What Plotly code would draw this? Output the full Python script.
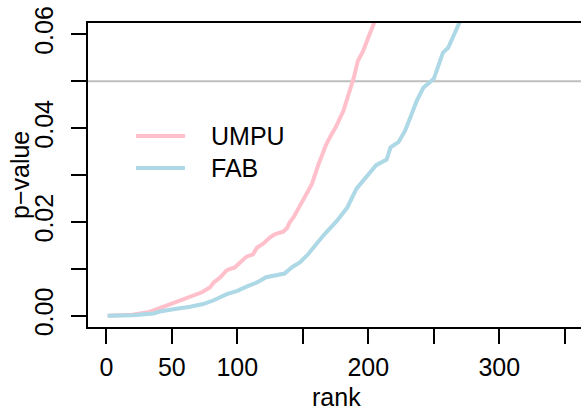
import plotly.graph_objects as go

# Sorted p-values by rank for the two procedures
umpu_rank = [1, 10, 20, 33, 41, 49, 56, 65, 73, 79, 82, 87, 92, 98, 102, 107, 112, 115,
             120, 125, 129, 135, 138, 140, 143, 150, 157, 162, 168, 172, 175, 181, 186,
             189, 192, 196, 200, 204, 206]
umpu_pval = [0.0, 0.0001, 0.0002, 0.0008, 0.0016, 0.0025, 0.0033, 0.0042, 0.0050, 0.0060,
             0.0071, 0.0082, 0.0097, 0.0103, 0.0114, 0.0126, 0.0131, 0.0145, 0.0154, 0.0167,
             0.0174, 0.0179, 0.0187, 0.0199, 0.0210, 0.0244, 0.0281, 0.0323, 0.0366, 0.0387,
             0.0401, 0.0437, 0.0479, 0.0508, 0.0543, 0.0564, 0.0593, 0.0621, 0.0645]

fab_rank = [1, 20, 36, 41, 51, 64, 74, 82, 92, 100, 107, 115, 122, 129, 136, 142, 148, 154,
            157, 163, 166, 176, 184, 191, 199, 206, 214, 217, 223, 228, 232, 237, 242, 250,
            253, 257, 261, 266, 270, 272]
fab_pval = [0.0, 0.0001, 0.0005, 0.0009, 0.0014, 0.0019, 0.0025, 0.0033, 0.0046, 0.0053,
            0.0062, 0.0071, 0.0082, 0.0087, 0.0090, 0.0104, 0.0114, 0.0131, 0.0142, 0.0163,
            0.0172, 0.0202, 0.0231, 0.0271, 0.0299, 0.0321, 0.0333, 0.0359, 0.0370, 0.0394,
            0.0422, 0.0458, 0.0486, 0.0505, 0.0529, 0.0561, 0.0571, 0.0600, 0.0625, 0.0640]

series_names = ["UMPU", "FAB"]
series_colors = ["#FFC0CB", "#ADD8E6"]
alpha_level = 0.05

x_ticks = [0, 50, 100, 150, 200, 250, 300, 350]
x_tick_text = ["0", "50", "100", "", "200", "", "300", ""]
y_ticks = [0.0, 0.01, 0.02, 0.03, 0.04, 0.05, 0.06]
y_tick_text = ["0.00", "", "0.02", "", "0.04", "", "0.06"]

W, H = 581, 409
L, R, T, B = 88, 0, 23, 82
FONT = "Liberation Sans, Arial, Helvetica, sans-serif"
FS = 25
LW = 4

fig = go.Figure()
for xs, ys, name, col in [(umpu_rank, umpu_pval, series_names[0], series_colors[0]),
                          (fab_rank, fab_pval, series_names[1], series_colors[1])]:
    fig.add_trace(go.Scatter(x=xs, y=ys, mode="lines", name=name,
                             line=dict(color=col, width=LW), showlegend=False,
                             cliponaxis=True))

# reference line at the significance level
fig.add_shape(type="line", xref="paper", x0=0, x1=1, yref="y", y0=alpha_level, y1=alpha_level,
              line=dict(color="#BEBEBE", width=2), layer="below")

pw = W - L - R
ph = H - T - B

def px_x(px):
    return (px - L) / pw

def px_y(py):
    return (H - B - py) / ph

# legend drawn by hand
for name, col, py in [(series_names[0], series_colors[0], 136), (series_names[1], series_colors[1], 168)]:
    fig.add_shape(type="line", xref="paper", yref="paper", x0=px_x(136), x1=px_x(185),
                  y0=px_y(py), y1=px_y(py), line=dict(color=col, width=LW))
    fig.add_annotation(xref="paper", yref="paper", x=px_x(209), y=px_y(py), text=name,
                       showarrow=False, xanchor="left", yanchor="middle",
                       font=dict(family=FONT, size=FS, color="black"))

# axis titles
fig.add_annotation(xref="paper", yref="paper", x=px_x(20), y=0.5, text="p\u2212value",
                   textangle=-90, showarrow=False, xanchor="center", yanchor="middle",
                   font=dict(family=FONT, size=FS, color="black"))
fig.add_annotation(xref="paper", yref="paper", x=px_x(336), y=px_y(397), text="rank",
                   showarrow=False, xanchor="center", yanchor="middle",
                   font=dict(family=FONT, size=FS, color="black"))

fig.update_layout(
    width=W, height=H,
    margin=dict(l=L, r=R, t=T, b=B, pad=0),
    paper_bgcolor="white", plot_bgcolor="white",
    font=dict(family=FONT, size=FS, color="black"),
    xaxis=dict(range=[-14, 362.4], tickvals=x_ticks, ticktext=x_tick_text,
               showgrid=False, zeroline=False, showline=True, mirror=True,
               linecolor="black", linewidth=2, ticks="outside", ticklen=15,
               tickwidth=2, tickcolor="black", ticklabelstandoff=2,
               tickfont=dict(family=FONT, size=FS, color="black")),
    yaxis=dict(range=[-0.0024, 0.0624], tickvals=y_ticks, ticktext=y_tick_text,
               showgrid=False, zeroline=False, showline=True, mirror=False,
               linecolor="black", linewidth=2, ticks="outside", ticklen=15,
               tickwidth=2, tickcolor="black", tickangle=-90, ticklabelstandoff=8,
               tickfont=dict(family=FONT, size=FS, color="black")),
)

fig.write_html("out.html")
